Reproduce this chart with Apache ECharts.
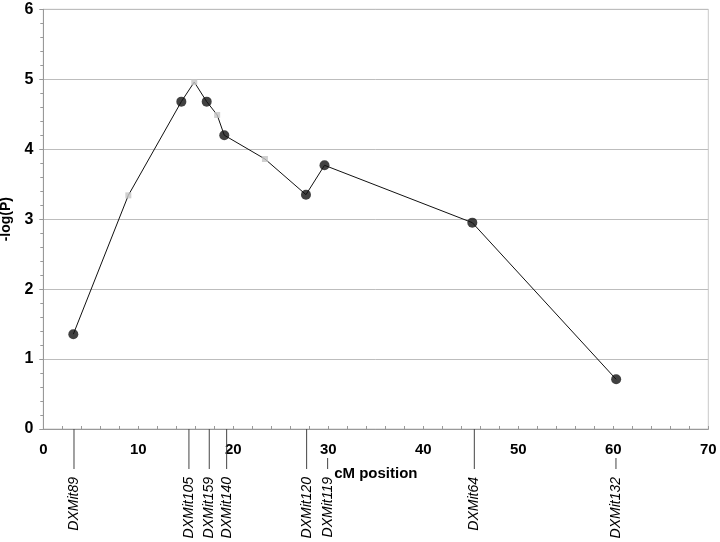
<!DOCTYPE html>
<html>
<head>
<meta charset="utf-8">
<script src="https://cdn.jsdelivr.net/npm/echarts@6/dist/echarts.min.js"></script>
<style>html,body{margin:0;padding:0;background:#fff}#c{width:720px;height:542px}</style>
</head>
<body>
<div id="c"></div>
<script>
// LOD curve points in order (cM position, -log(P))
var curveX = [3.16, 8.95, 14.53, 15.89, 17.2, 18.3, 19.05, 23.33, 27.65, 29.6, 45.16, 60.3];
var curveY = [1.355, 3.34, 4.68, 4.96, 4.68, 4.49, 4.2, 3.86, 3.35, 3.77, 2.95, 0.71];
// true = typed marker (black dot), false = interval point (grey square)
var curveIsMarker = [true, false, true, false, true, false, true, false, true, true, true, true];

// Microsatellite markers shown under the axis
var markerNames = ['DXMit89', 'DXMit105', 'DXMit159', 'DXMit140', 'DXMit120', 'DXMit119', 'DXMit64', 'DXMit132'];
var markerPos = [3.23, 15.33, 17.47, 19.3, 27.72, 29.93, 45.37, 60.28];
var shortTickMarkers = ['DXMit119', 'DXMit132'];

var xTicks = [0, 10, 20, 30, 40, 50, 60, 70];
var yTicks = [0, 1, 2, 3, 4, 5, 6];

var lineData = curveX.map(function (x, i) { return [x, curveY[i]]; });
var dotData = [], squareData = [];
curveX.forEach(function (x, i) {
  (curveIsMarker[i] ? dotData : squareData).push([x, curveY[i]]);
});
var markerData = markerNames.map(function (n, i) { return [markerPos[i], 0, n]; });

var FONT = '"Liberation Sans", Arial, sans-serif';
var chart = echarts.init(document.getElementById('c'), null, {renderer: 'canvas'});
chart.setOption({
  animation: false,
  backgroundColor: '#fff',
  grid: {left: 43.3, right: 11.7, top: 9.3, bottom: 113, show: true, borderColor: '#c8c8c8', borderWidth: 1,
         containLabel: false, outerBoundsMode: 'none'},
  xAxis: {
    type: 'value', min: xTicks[0], max: xTicks[xTicks.length - 1], interval: 10,
    name: 'cM position', nameLocation: 'middle', nameGap: 37,
    nameTextStyle: {fontFamily: FONT, fontWeight: 'bold', fontSize: 15, color: '#000'},
    axisLine: {show: true, lineStyle: {color: '#999', width: 1}},
    axisTick: {show: true, inside: true, length: 3, lineStyle: {color: '#999'}},
    minorTick: {show: true, splitNumber: 5, length: 3, lineStyle: {color: '#999'}},
    axisLabel: {fontFamily: FONT, fontWeight: 'bold', fontSize: 15, color: '#000', margin: 13},
    splitLine: {show: false}
  },
  yAxis: {
    type: 'value', min: yTicks[0], max: yTicks[yTicks.length - 1], interval: 1,
    name: '-log(P)', nameLocation: 'middle', nameGap: 27,
    nameTextStyle: {fontFamily: FONT, fontWeight: 'bold', fontSize: 14, color: '#000'},
    axisLine: {show: true, lineStyle: {color: '#999', width: 1}},
    axisTick: {show: true, length: 4, lineStyle: {color: '#999'}},
    minorTick: {show: true, splitNumber: 5, length: 3, lineStyle: {color: '#999'}},
    axisLabel: {fontFamily: FONT, fontWeight: 'bold', fontSize: 16, color: '#000', margin: 10},
    splitLine: {show: true, lineStyle: {color: '#bdbdbd', width: 1}}
  },
  series: [
    {type: 'line', data: lineData, showSymbol: false, symbol: 'none',
     lineStyle: {color: '#111', width: 1}, z: 2},
    {type: 'scatter', data: squareData, symbol: 'rect', symbolSize: 6,
     itemStyle: {color: '#c4c4c4'}, z: 3},
    {type: 'scatter', data: dotData, symbol: 'circle', symbolSize: 10,
     itemStyle: {color: '#111'}, z: 4},
    {type: 'custom', data: markerData, clip: false, silent: true,
     encode: {x: 0, y: 1},
     renderItem: function (params, api) {
       var p = api.coord([api.value(0), 0]);
       var name = markerNames[params.dataIndex];
       var isShort = shortTickMarkers.indexOf(name) >= 0;
       var y1 = isShort ? p[1] + 29 : p[1];
       return {
         type: 'group',
         children: [
           {type: 'line', shape: {x1: p[0], y1: y1, x2: p[0], y2: p[1] + 40},
            style: {stroke: '#444', lineWidth: 1}},
           {type: 'text', x: p[0], y: p[1] + 48, rotation: Math.PI / 2,
            style: {text: name, x: 0, y: 0, align: 'right', verticalAlign: 'middle',
                    font: 'italic 14px ' + FONT, fill: '#000'}}
         ]
       };
     }, z: 5}
  ]
});
</script>
</body>
</html>
